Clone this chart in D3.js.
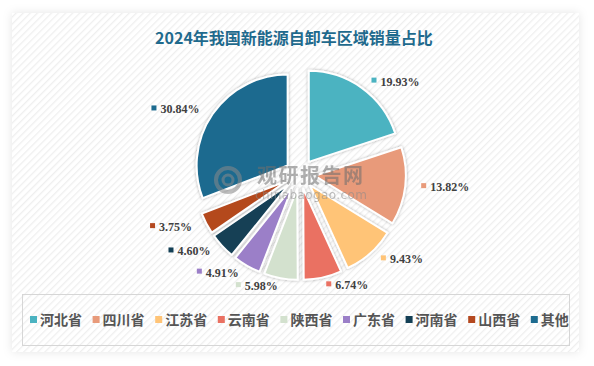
<!DOCTYPE html>
<html><head><meta charset="utf-8">
<script src="https://cdn.jsdelivr.net/npm/d3@7"></script>
<style>
html,body{margin:0;padding:0;background:#fff;}
svg{display:block;}
</style></head>
<body>
<svg id="c" width="594" height="366"></svg>
<script>
const title = "2024年我国新能源自卸车区域销量占比";
const categories = ["河北省","四川省","江苏省","云南省","陕西省","广东省","河南省","山西省","其他"];
const values = [19.93, 13.82, 9.43, 6.74, 5.98, 4.91, 4.60, 3.75, 30.84];
const colors = ["#4bb3c1","#e89a7a","#ffc477","#ea7162","#d3e1ce","#9b7fc8","#133f55","#b4481f","#1d6b8f"];

const svg = d3.select("#c");
const defs = svg.append("defs");
const pat = defs.append("pattern").attr("id","hatch").attr("patternUnits","userSpaceOnUse")
  .attr("width",5).attr("height",5).attr("patternTransform","rotate(45)");
pat.append("rect").attr("width",5).attr("height",5).attr("fill","#ffffff");
pat.append("rect").attr("x",0).attr("width",1.3).attr("height",5).attr("fill","#efefef");
const sh = defs.append("filter").attr("id","cardsh").attr("x","-10%").attr("y","-10%").attr("width","120%").attr("height","120%");
sh.append("feDropShadow").attr("dx",0).attr("dy",0).attr("stdDeviation",5).attr("flood-color","#000").attr("flood-opacity",0.10);
const ps = defs.append("filter").attr("id","pies").attr("x","-20%").attr("y","-20%").attr("width","140%").attr("height","140%");
ps.append("feDropShadow").attr("dx",0).attr("dy",0).attr("stdDeviation",1.6).attr("flood-color","#000").attr("flood-opacity",0.35);

// card
svg.append("rect").attr("x",12).attr("y",13).attr("width",567).attr("height",339)
  .attr("fill","url(#hatch)").attr("filter","url(#cardsh)");

svg.append("text").attr("x",294).attr("y",44).attr("text-anchor","middle")
  .attr("font-family","'Noto Sans CJK SC', sans-serif").attr("font-weight","bold")
  .attr("font-size",16).attr("fill","#1f6a8d").text(title);

const cx = 300, cy = 174, R = 91, explode = 15, labelRx = 122, labelRy = 114;
const data = categories.map((c,i)=>({cat:c, value:values[i], color:colors[i]}));
const pie = d3.pie().value(d=>d.value).sort(null);
const arcs = pie(data);
const arc = d3.arc().innerRadius(0).outerRadius(R);

const g = svg.append("g").attr("transform",`translate(${cx},${cy})`);

g.selectAll("path.s").data(arcs).join("path")
  .attr("class","s")
  .attr("d",arc)
  .attr("fill",d=>d.data.color)
  .attr("stroke","#fff").attr("stroke-width",2)
  .attr("stroke-linejoin","round")
  .attr("filter","url(#pies)")
  .attr("transform",d=>{
    const a=(d.startAngle+d.endAngle)/2;
    return `translate(${Math.sin(a)*explode},${-Math.cos(a)*explode})`;
  });

// watermark
const wm = svg.append("g").attr("opacity",0.55);
wm.append("circle").attr("cx",228).attr("cy",180).attr("r",12).attr("fill","none").attr("stroke","#8a8a8a").attr("stroke-width",4);
wm.append("circle").attr("cx",228).attr("cy",180).attr("r",5).attr("fill","none").attr("stroke","#8a8a8a").attr("stroke-width",3);
wm.append("text").attr("x",257).attr("y",183).attr("font-family","'Noto Sans CJK SC', sans-serif")
  .attr("font-weight","bold").attr("font-size",20).attr("fill","#6e6e6e").attr("textLength",106).text("观研报告网");
wm.append("text").attr("x",255).attr("y",199).attr("font-family","'DejaVu Sans', sans-serif")
  .attr("font-size",12).attr("fill","#8a8a8a").attr("textLength",112).text("chinabaogao.com");

// labels
const lab = svg.append("g").attr("transform",`translate(${cx},${cy})`);
arcs.forEach(d=>{
  const a=(d.startAngle+d.endAngle)/2;
  const x=Math.sin(a)*labelRx, y=-Math.cos(a)*labelRy;
  const right = Math.sin(a) > 0;
  const t = lab.append("text").attr("y",y+4)
    .attr("font-family","'Liberation Serif', serif").attr("font-weight","bold")
    .attr("font-size",12).attr("fill","#404040")
    .text(d.data.value.toFixed(2)+"%");
  const w = t.node().getComputedTextLength();
  let mx;
  if(right){ mx = x; t.attr("x",x+9); }
  else { t.attr("x",x-w); mx = x-w-9; }
  lab.append("rect").attr("x",mx).attr("y",y-4).attr("width",5).attr("height",5).attr("fill",d.data.color);
});

// legend
svg.append("rect").attr("x",22.5).attr("y",294.5).attr("width",547).attr("height",51)
  .attr("fill","none").attr("stroke","#d6d6d6").attr("stroke-width",1);
const lg = svg.append("g");
const step = 62.6;
data.forEach((d,i)=>{
  const x0 = 30 + i*step;
  lg.append("rect").attr("x",x0).attr("y",316).attr("width",7).attr("height",7).attr("fill",d.color);
  lg.append("text").attr("x",x0+10).attr("y",325).attr("font-family","'Noto Sans CJK SC', sans-serif")
    .attr("font-weight","bold").attr("font-size",14).attr("fill","#555555").text(d.cat);
});
</script>
</body></html>
